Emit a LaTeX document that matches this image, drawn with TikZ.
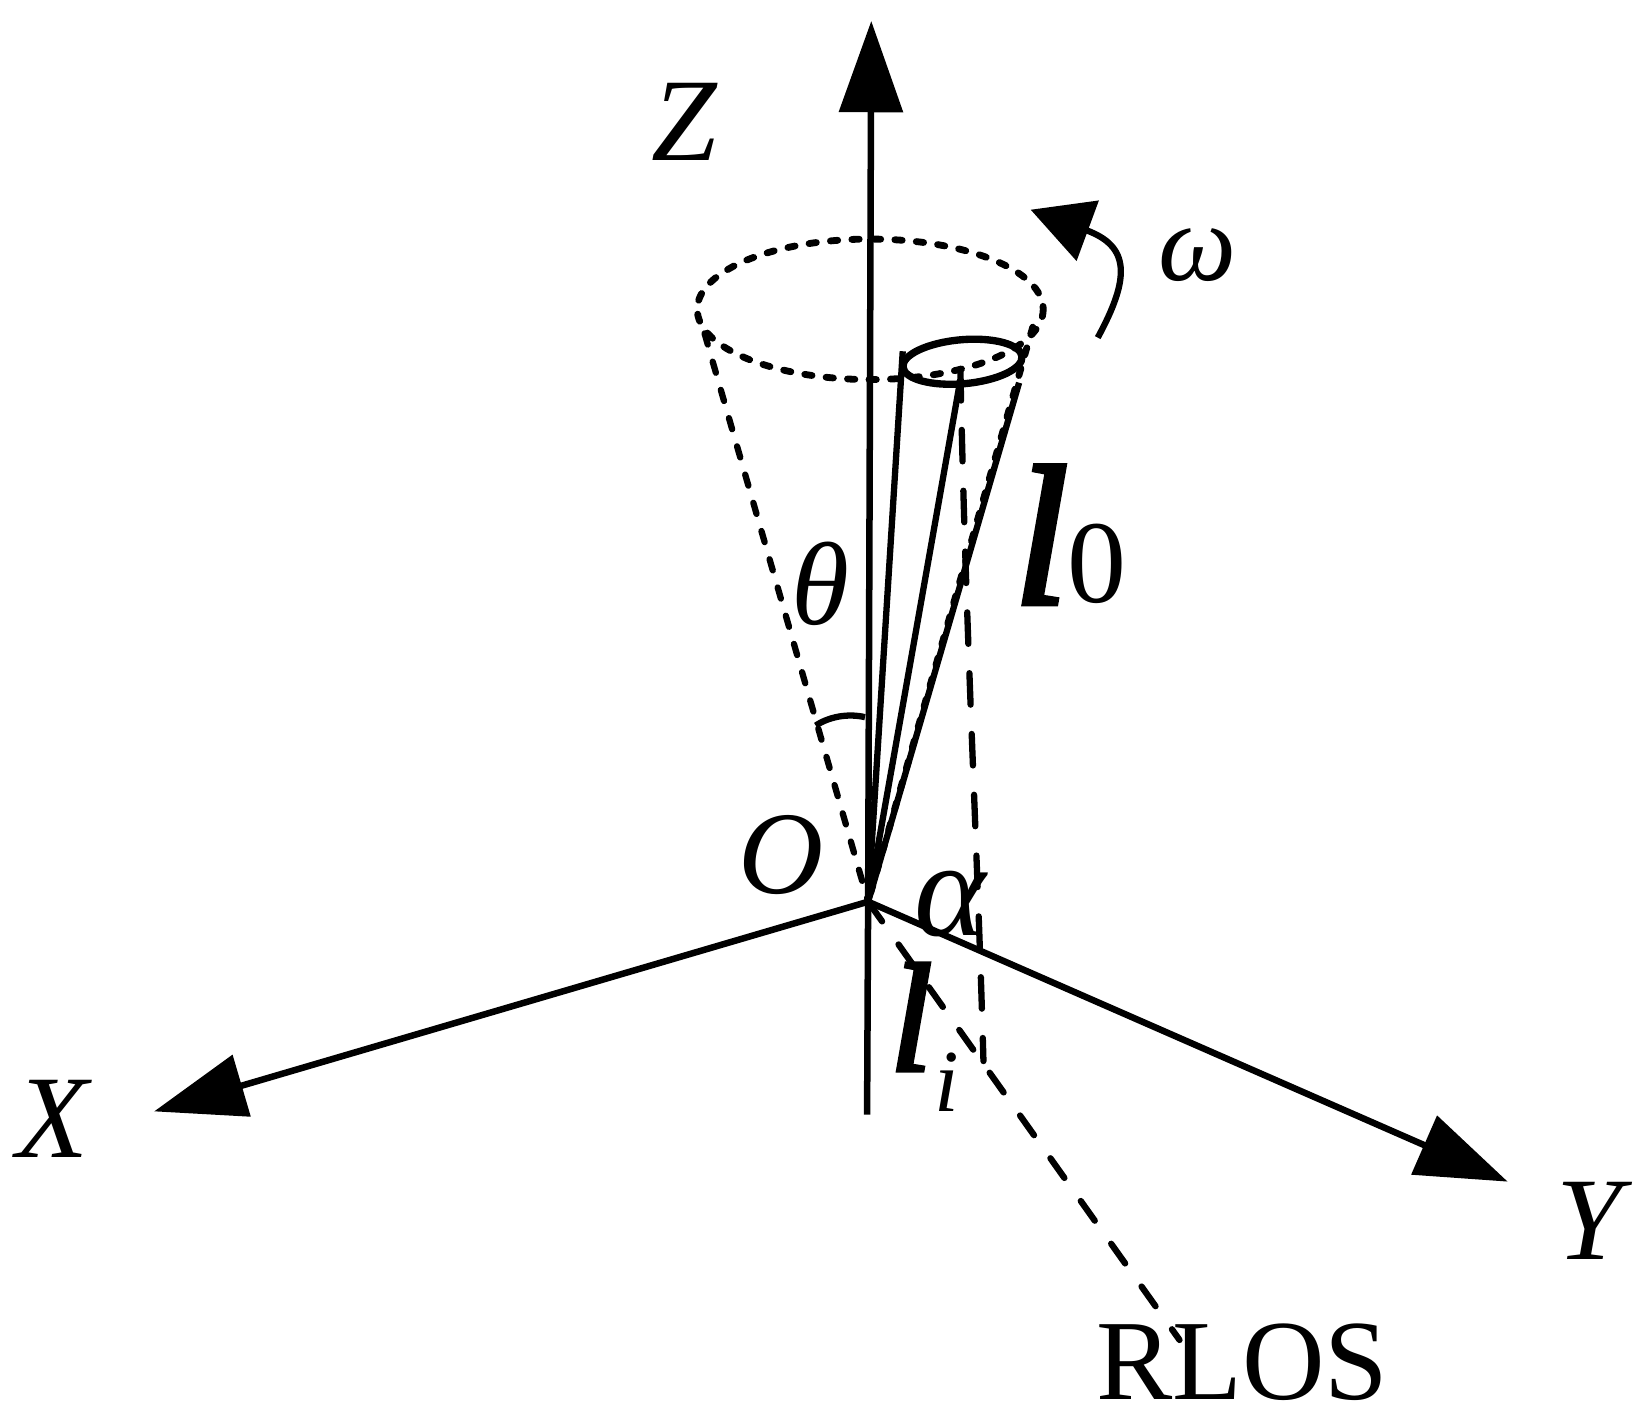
\documentclass[tikz,border=0pt]{standalone}
\usepackage{fontspec}
\setmainfont{Liberation Serif}
\newfontface\heavyit[FakeBold=2.5]{Liberation Serif Italic}
\usetikzlibrary{arrows.meta}
\tikzset{
  axis/.style={line width=0.062cm,-{Triangle[length=0.87cm,width=0.6cm]}},
  solidline/.style={line width=0.06cm},
  dotline/.style={line width=0.065cm,line cap=round,dash pattern=on 0.07cm off 0.135cm},
  conedash/.style={line width=0.06cm,line cap=round,dash pattern=on 0.11cm off 0.17cm},
  longdash/.style={line width=0.06cm,line cap=round,dash pattern=on 0.3cm off 0.28cm},
  losdash/.style={line width=0.06cm,line cap=round,dash pattern=on 0.23cm off 0.27cm},
  lab/.style={inner sep=0pt,font=\fontsize{32pt}{32pt}\selectfont\itshape},
}
\begin{document}
\begin{tikzpicture}[x=0.01cm,y=-0.01cm]
\useasboundingbox (0,0) rectangle (1568,1359);
% points
\coordinate (O) at (828,860);
\coordinate (Zb) at (827,1063);
\coordinate (Zt) at (831,20);
\coordinate (Xt) at (147,1060);
\coordinate (Yt) at (1438,1127);
\coordinate (cL) at (672,318);
\coordinate (cR) at (985,312);
\coordinate (t1) at (861,335);
\coordinate (t2) at (916,362);
\coordinate (t3) at (972,365);
\coordinate (d1) at (916,352);
\coordinate (d2) at (938,1012);
\coordinate (R) at (1125,1278);
\coordinate (w1) at (1047,322);
\coordinate (w2) at (983,200);
\coordinate (a1) at (778,692);
\coordinate (a2) at (825,684);
% axes
\draw[line width=0.062cm] (Zb) -- (O);
\draw[axis] (O) -- (Zt);
\draw[axis] (O) -- (Xt);
\draw[axis] (O) -- (Yt);
% dotted circle and cone
\draw[dotline] (830,295) ellipse [x radius=165,y radius=67];
\draw[conedash] (cL) -- (O);
\draw[dotline] (cR) -- (O);
% small cone
\draw[line width=0.07cm,rotate around={5:(918,345)}] (918,345) ellipse [x radius=57,y radius=21];
\draw[solidline] (t1) -- (O);
\draw[solidline] (t2) -- (O);
\draw[solidline] (t3) -- (O);
% dashed
\draw[longdash] (d1) .. controls (921,600) and (932,800) .. (d2);
\draw[losdash] (O) -- (R);
% rotation
\draw[line width=0.06cm,-{Triangle[length=0.58cm,width=0.6cm]}] (w1) .. controls (1078,265) and (1078,235) .. (w2);
% angle
\draw[line width=0.06cm] (a1) .. controls (790,684) and (808,680) .. (a2);
% labels
\node[lab] (lz) at (653,116) {Z};
\node[lab] (lx) at (50,1067) {X};
\node[lab] (ly) at (1516,1164) {Y};
\node[lab] (lo) at (745,815) {O};
\node[lab] (lt) at (783,557) {θ};
\node[lab,font=\fontsize{30pt}{30pt}\selectfont\itshape] (lw) at (1142,243) {ω};
\node[lab,font=\fontsize{37pt}{37pt}\selectfont\itshape] (la) at (906,862) {α};
\node[lab,font=\fontsize{54pt}{54pt}\selectfont\heavyit] (ll) at (993,510) {l};
\node[lab,font=\fontsize{32pt}{32pt}\selectfont\upshape] (l0) at (1046,538) {0};
\node[lab,font=\fontsize{42pt}{42pt}\selectfont\heavyit] (lli) at (869,970) {l};
\node[lab,font=\fontsize{24pt}{24pt}\selectfont\itshape] (li) at (903,1032) {i};
\node[lab,font=\fontsize{31pt}{31pt}\selectfont\upshape] (rl) at (1185,1299) {RLOS};
\end{tikzpicture}
\end{document}
